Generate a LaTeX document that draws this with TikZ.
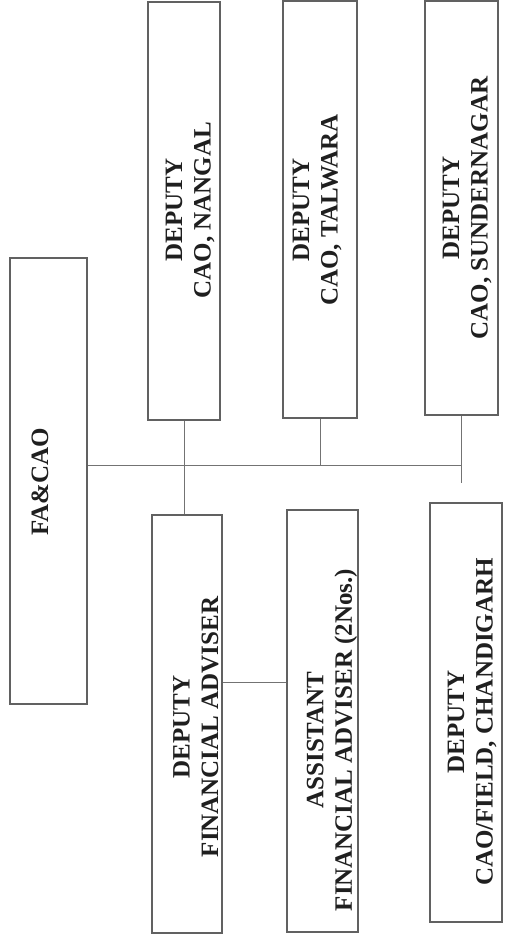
\documentclass[tikz,border=0pt]{standalone}
\usepackage{fontspec}
\setmainfont{Liberation Serif}
\begin{document}
\begin{tikzpicture}[x=1pt,y=1pt,
  post/.style={draw=black!62, line width=1.3pt, inner sep=0pt},
  title/.style={rotate=90, align=center, inner sep=0pt, text=black!88,
    font=\fontsize{25}{28.5}\selectfont\bfseries},
  link/.style={draw=black!55, line width=0.9pt}]
\useasboundingbox (0,0) rectangle (504,-940);

% boxes (plain rectangles; the titles are set separately, rotated)
\node[post, minimum width=77pt, minimum height=446pt] (fa)      at (48.5,-481) {};
\node[post, minimum width=72pt, minimum height=418pt] (nangal)  at (184,-211) {};
\node[post, minimum width=74pt, minimum height=417pt] (talwara) at (320,-209.5) {};
\node[post, minimum width=73pt, minimum height=414pt] (sunder)  at (461.5,-208) {};
\node[post, minimum width=70pt, minimum height=418pt] (dfa)     at (187,-724) {};
\node[post, minimum width=71pt, minimum height=422pt] (afa)     at (322.5,-721) {};
\node[post, minimum width=72pt, minimum height=419pt] (chd)     at (466,-712.5) {};

% titles
\node[title] (tfa)      at (40,-482)  {FA\&CAO};
\node[title] (tnangal)  at (190,-210) {DEPUTY\\CAO, NANGAL};
\node[title] (ttalwara) at (317,-210) {DEPUTY\\CAO, TALWARA};
\node[title] (tsunder)  at (467,-208) {DEPUTY\\CAO, SUNDERNAGAR};
\node[title] (tdfa)     at (196,-727) {DEPUTY\\FINANCIAL ADVISER};
\node[title] (tafa)     at (332,-740) {ASSISTANT\\FINANCIAL ADVISER (2Nos.)};
\node[title] (tchd)     at (472,-722) {DEPUTY\\CAO/FIELD, CHANDIGARH};

% connector ends
\coordinate (busL) at (fa.east |- 0,-465);
\coordinate (busR) at (sunder.south |- 0,-465);
\coordinate (stub) at (sunder.south |- 0,-483);
\coordinate (advL) at (dfa.east |- 0,-682);
\coordinate (advR) at (afa.west |- 0,-682);

% connectors
\draw[link] (busL) -- (busR);
\draw[link] (nangal.south) -- (nangal.south |- dfa.north);
\draw[link] (talwara.south) -- (talwara.south |- busL);
\draw[link] (sunder.south) -- (stub);
\draw[link] (advL) -- (advR);
\end{tikzpicture}
\end{document}
